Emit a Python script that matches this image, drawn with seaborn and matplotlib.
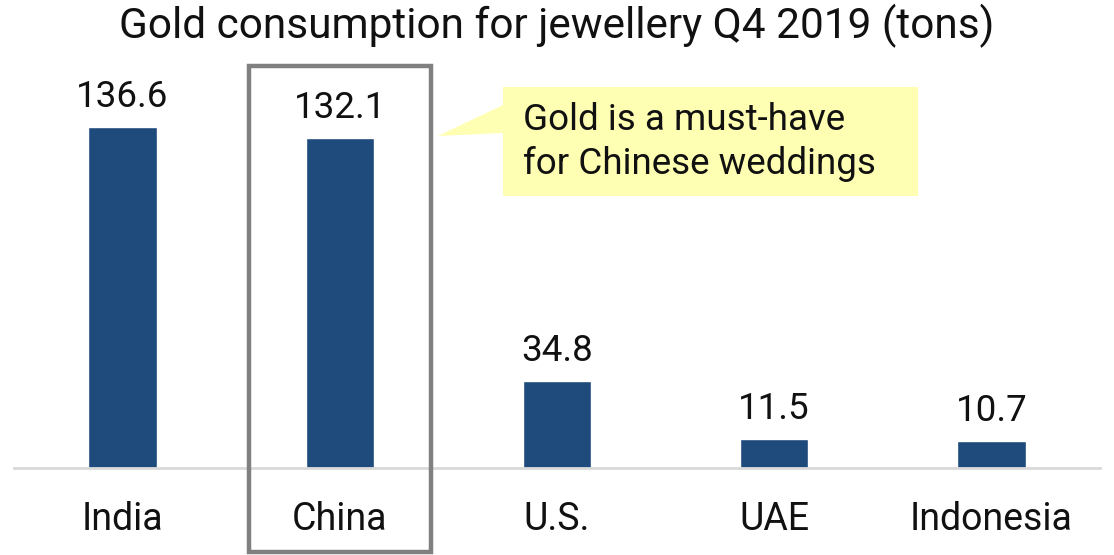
import matplotlib
matplotlib.use("Agg")
import matplotlib.pyplot as plt
from matplotlib.patches import Rectangle, Polygon
import matplotlib.transforms as mtransforms
import seaborn as sns
import pandas as pd

countries = ["India", "China", "U.S.", "UAE", "Indonesia"]
tons = [136.6, 132.1, 34.8, 11.5, 10.7]
title = "Gold consumption for jewellery Q4 2019 (tons)"
callout_text = "Gold is a must-have\nfor Chinese weddings"
highlight = "China"

bar_color = "#1f4a7c"

sns.set_theme(style="white")
plt.rcParams["font.family"] = ["Roboto", "DejaVu Sans"]

W, H = 1114, 555
fig = plt.figure(figsize=(W / 100, H / 100), dpi=100)
ax = fig.add_axes([14 / W, (H - 468) / H, (1100 - 14) / W, (468 - 70) / H])

df = pd.DataFrame({"country": countries, "tons": tons})
sns.barplot(data=df, x="country", y="tons", color=bar_color, width=0.315,
            saturation=1, ax=ax)
ax.set_xlim(-0.5, len(countries) - 0.5)
ax.set_ylim(0, (468 - 70) / 2.496)

for c in ax.containers:
    ax.bar_label(c, labels=[f"{v:.1f}" for v in tons], padding=9,
                 fontsize=26.5, color="#111111")

ax.set_xlabel("")
ax.set_ylabel("")
ax.set_yticks([])
ax.tick_params(axis="x", length=0, labelsize=27, pad=24, colors="#111111")
for s in ["top", "right", "left"]:
    ax.spines[s].set_visible(False)
ax.spines["bottom"].set_color("#d9d9d9")
ax.spines["bottom"].set_linewidth(2)

fig.text(0.5, (H - 26) / H, title, ha="center", va="center", fontsize=30.5,
         color="#111111")

# Frame around the highlighted category
hi = countries.index(highlight)
trans = mtransforms.blended_transform_factory(ax.transData, fig.transFigure)
ax.add_patch(Rectangle((hi - 0.42, (H - 552) / H), 0.84, (552 - 66) / H,
                       transform=trans, fill=False, edgecolor="#808080",
                       linewidth=3.2, clip_on=False, zorder=5))

# Speech-bubble callout
px = lambda x, y: (x / W, (H - y) / H)
bubble = Polygon([px(503, 87), px(918, 87), px(918, 196), px(503, 196),
                  px(503, 133), px(438, 136), px(503, 105)],
                 closed=True, transform=fig.transFigure, facecolor="#ffffb3",
                 edgecolor="none", zorder=4)
fig.patches.append(bubble)
fig.text(523 / W, (H - 142) / H, callout_text, ha="left", va="center",
         fontsize=26.5, color="#111111", linespacing=1.28, zorder=6)

fig.savefig("out.png", dpi=100)
